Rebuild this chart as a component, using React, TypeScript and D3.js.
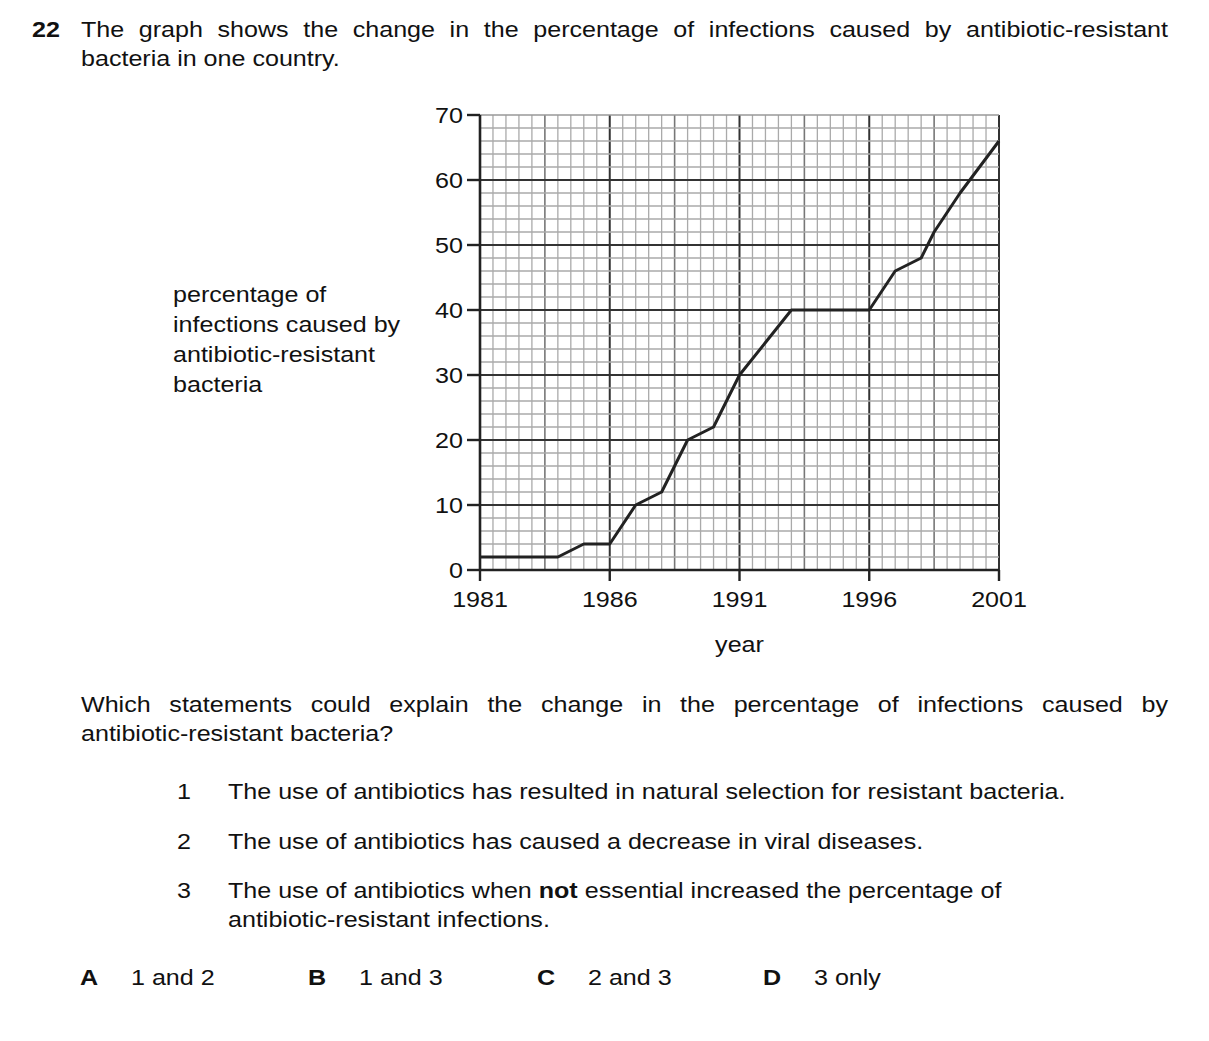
import * as d3 from "d3";
import React, { useEffect, useRef } from "react";

// line points (year, %)
const years: number[] = [1981, 1982, 1983, 1984, 1985, 1986, 1987, 1988, 1989, 1990, 1991, 1992, 1993, 1994, 1995, 1996, 1997, 1998, 1998.5, 1999.5, 2001];
const percents: number[] = [2, 2, 2, 2, 4, 4, 10, 12, 20, 22, 30, 35, 40, 40, 40, 40, 46, 48, 52, 58, 66];

const yTicks: number[] = [0, 10, 20, 30, 40, 50, 60, 70];
const xTicks: number[] = [1981, 1986, 1991, 1996, 2001];

const yLabelLines: string[] = ["percentage of", "infections caused by", "antibiotic-resistant", "bacteria"];
const statements: string[] = [
	"The use of antibiotics has resulted in natural selection for resistant bacteria.",
	"The use of antibiotics has caused a decrease in viral diseases.",
];
const options: string[][] = [["A", "1 and 2"], ["B", "1 and 3"], ["C", "2 and 3"], ["D", "3 only"]];

const FONT = "'Liberation Sans', Arial, Helvetica, sans-serif";
const SX = 1.14; // the scan is a bit wider than tall

const App = () => {
	const ref = useRef<SVGSVGElement>(null);

	useEffect(() => {
		const svg = d3.select(ref.current);
		svg.selectAll("*").remove();

		const addText = (x: number, y: number, str: string, anchor = "start", weight = "normal") =>
			svg.append("text")
				.attr("transform", `translate(${x},${y}) scale(${SX},1)`)
				.attr("text-anchor", anchor)
				.attr("font-family", FONT)
				.attr("font-size", 22)
				.attr("font-weight", weight)
				.attr("fill", "#111")
				.text(str);

		// justified line: spread the words to fill the width
		const justify = (x: number, y: number, str: string, right: number) => {
			const t = addText(x, y, str);
			const node = t.node() as SVGTextElement;
			const natural = node.getComputedTextLength();
			const gaps = str.split(" ").length - 1;
			const ws = ((right - x) / SX - natural) / gaps;
			t.style("word-spacing", `${ws}px`);
		};

		// question
		addText(32, 37, "22", "start", "bold");
		justify(81, 37, "The graph shows the change in the percentage of infections caused by antibiotic-resistant", 1168);
		addText(81, 66, "bacteria in one country.");

		// scales
		const x = d3.scaleLinear().domain([1981, 2001]).range([480, 999]);
		const y = d3.scaleLinear().domain([0, 70]).range([570, 115]);

		// graph paper
		const grid = svg.append("g");
		for (let i = 0; i <= 40; i++) {
			const yr = 1981 + i * 0.5;
			const major = i % 10 === 0;
			const mid = i % 5 === 0 && !major;
			grid.append("line")
				.attr("x1", x(yr)).attr("x2", x(yr))
				.attr("y1", y(0)).attr("y2", y(70))
				.attr("stroke", major ? "#333" : mid ? "#777" : "#aaa")
				.attr("stroke-width", major ? 2 : mid ? 1.6 : 1.3);
		}
		for (let v = 0; v <= 70; v += 2) {
			const major = v % 10 === 0 && v !== 70;
			grid.append("line")
				.attr("x1", x(1981)).attr("x2", x(2001))
				.attr("y1", y(v)).attr("y2", y(v))
				.attr("stroke", major ? "#333" : v === 70 ? "#999" : "#aaa")
				.attr("stroke-width", major ? 2 : 1.3);
		}

		// axes
		svg.append("line")
			.attr("x1", x(1981)).attr("x2", x(1981))
			.attr("y1", y(0)).attr("y2", y(70))
			.attr("stroke", "#222").attr("stroke-width", 2.6);
		svg.append("line")
			.attr("x1", x(1981)).attr("x2", x(2001))
			.attr("y1", y(0)).attr("y2", y(0))
			.attr("stroke", "#222").attr("stroke-width", 2.6);

		yTicks.forEach((v) => {
			svg.append("line")
				.attr("x1", x(1981) - 13).attr("x2", x(1981))
				.attr("y1", y(v)).attr("y2", y(v))
				.attr("stroke", "#222").attr("stroke-width", 2.4);
			addText(x(1981) - 17, y(v) + 8, String(v), "end");
		});
		xTicks.forEach((t) => {
			svg.append("line")
				.attr("x1", x(t)).attr("x2", x(t))
				.attr("y1", y(0)).attr("y2", y(0) + 11)
				.attr("stroke", "#222").attr("stroke-width", 2.4);
			addText(x(t), y(0) + 37, String(t), "middle");
		});

		// data line
		const pts: [number, number][] = years.map((yr, i) => [yr, percents[i]]);
		svg.append("path")
			.datum(pts)
			.attr("fill", "none")
			.attr("stroke", "#222")
			.attr("stroke-width", 3)
			.attr("stroke-linejoin", "round")
			.attr("d", d3.line<[number, number]>().x((d) => x(d[0])).y((d) => y(d[1])));

		// axis labels
		yLabelLines.forEach((l, i) => addText(173, 302 + i * 30, l));
		addText(x(1991), 652, "year", "middle");

		// question text
		justify(81, 712, "Which statements could explain the change in the percentage of infections caused by", 1168);
		addText(81, 741, "antibiotic-resistant bacteria?");

		statements.forEach((s, i) => {
			addText(184, 799 + i * 50, String(i + 1), "middle");
			addText(228, 799 + i * 50, s);
		});
		addText(184, 898, "3", "middle");
		const s3 = addText(228, 898, "The use of antibiotics when ");
		s3.append("tspan").attr("font-weight", "bold").text("not");
		s3.append("tspan").text(" essential increased the percentage of");
		addText(228, 927, "antibiotic-resistant infections.");

		const optX = [80, 308, 537, 763];
		options.forEach((o, i) => {
			addText(optX[i], 985, o[0], "start", "bold");
			addText(optX[i] + 51, 985, o[1]);
		});
	}, []);

	return (
		<svg
			ref={ref}
			width={1209}
			height={1041}
			style={{ position: "absolute", left: 0, top: 0, background: "#fff" }}
		/>
	);
};

export default App;
